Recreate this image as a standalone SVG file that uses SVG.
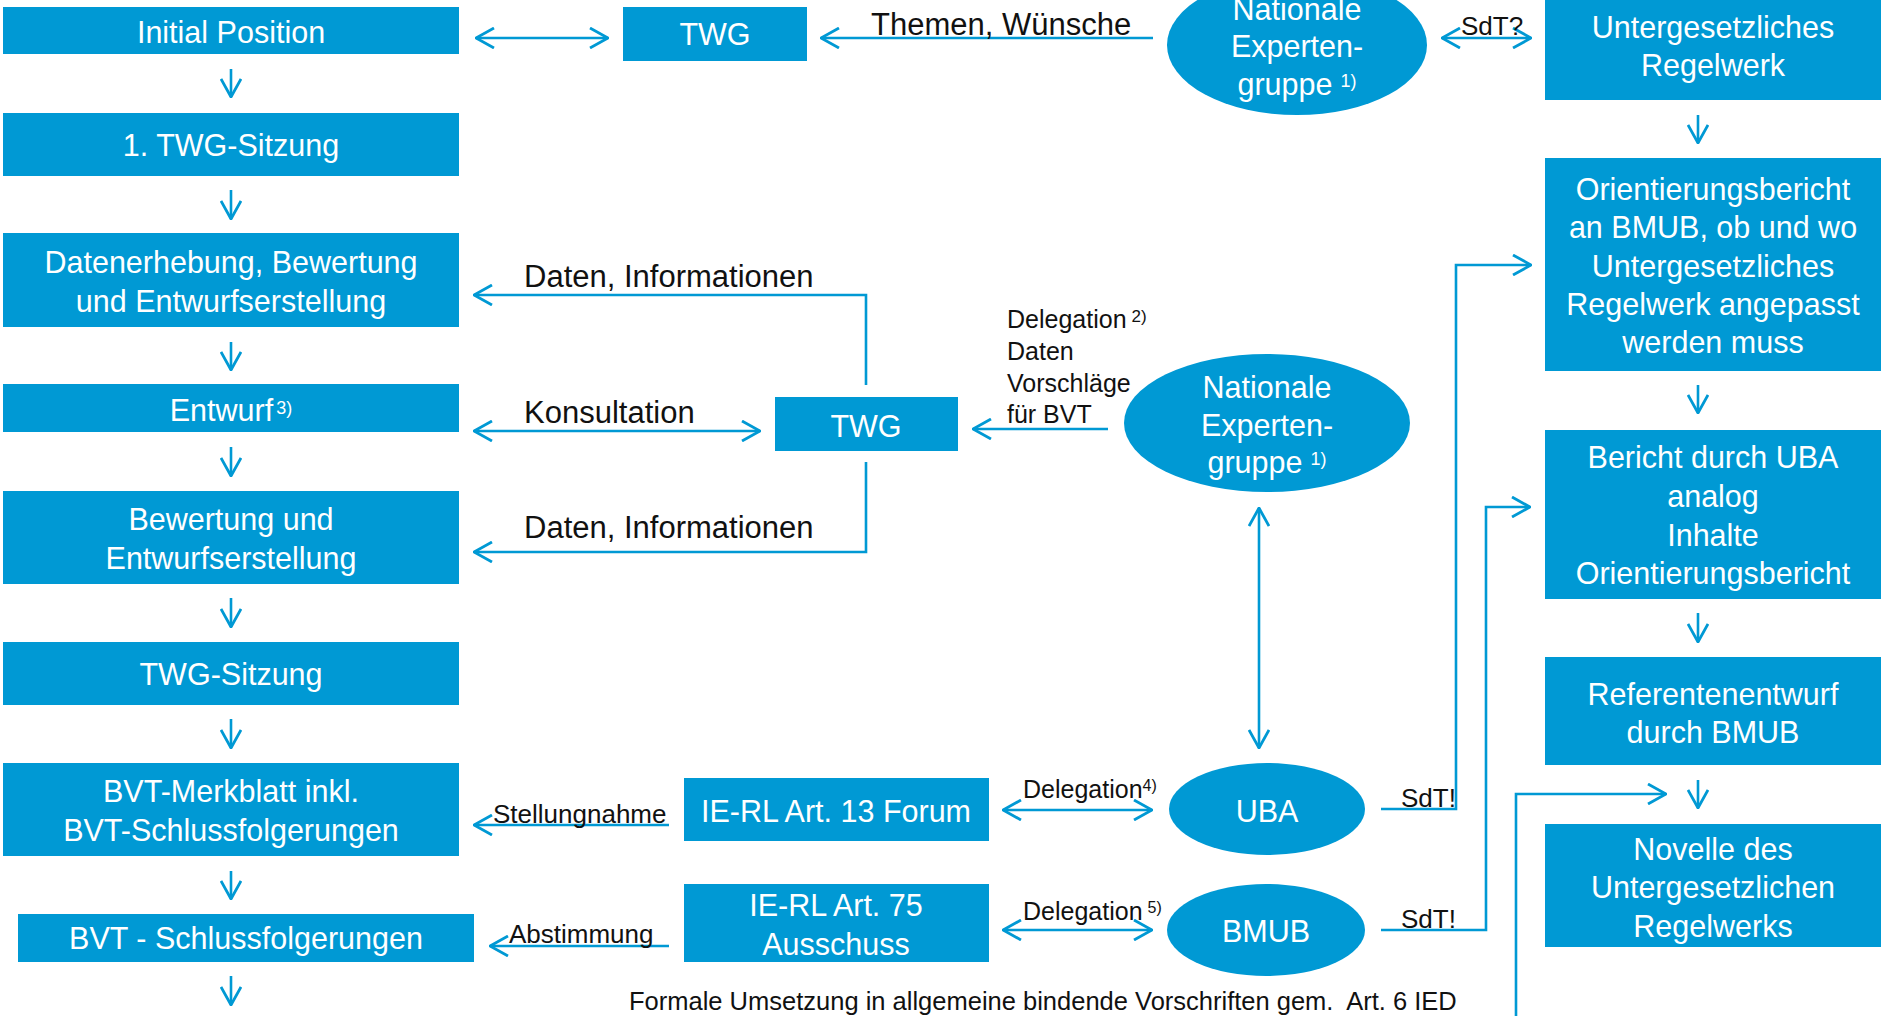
<svg xmlns="http://www.w3.org/2000/svg" width="1883" height="1016" viewBox="0 0 1883 1016">
<style>
.box{fill:#0099d4}
.wt{fill:#fff;font-family:"Liberation Sans",Arial,sans-serif;font-size:30.5px;text-anchor:middle}
.lb{fill:#111;font-family:"Liberation Sans",Arial,sans-serif;font-size:31px}
.sm{font-size:26px}
.md{font-size:25px}
.sup{font-size:18px}
.ln{fill:none;stroke:#0099d4;stroke-width:2.6}
.a1{marker-end:url(#ah)}
.a2{marker-start:url(#ah);marker-end:url(#ah)}
</style>
<defs>
<marker id="ah" viewBox="0 0 20 22" refX="19" refY="11" markerWidth="20" markerHeight="22" markerUnits="userSpaceOnUse" orient="auto-start-reverse">
<path d="M1,1 L19,11 L1,21" fill="none" stroke="#0099d4" stroke-width="2.8"/>
</marker>
</defs>
<rect width="1883" height="1016" fill="#fff"/>

<!-- left column -->
<g id="n-initial"><rect class="box" x="3" y="7" width="456" height="47"/><text class="wt" x="231" y="43">Initial Position</text></g>
<g id="n-twg1"><rect class="box" x="3" y="113" width="456" height="63"/><text class="wt" x="231" y="156">1. TWG-Sitzung</text></g>
<g id="n-daten"><rect class="box" x="3" y="233" width="456" height="94"/><text class="wt" x="231" y="273">Datenerhebung, Bewertung</text><text class="wt" x="231" y="312">und Entwurfserstellung</text></g>
<g id="n-entwurf"><rect class="box" x="3" y="384" width="456" height="48"/><text class="wt" x="231" y="421">Entwurf<tspan class="sup" dx="3" dy="-7">3)</tspan></text></g>
<g id="n-bewertung"><rect class="box" x="3" y="491" width="456" height="93"/><text class="wt" x="231" y="530">Bewertung und</text><text class="wt" x="231" y="569">Entwurfserstellung</text></g>
<g id="n-twg2"><rect class="box" x="3" y="642" width="456" height="63"/><text class="wt" x="231" y="685">TWG-Sitzung</text></g>
<g id="n-merkblatt"><rect class="box" x="3" y="763" width="456" height="93"/><text class="wt" x="231" y="802">BVT-Merkblatt inkl.</text><text class="wt" x="231" y="841">BVT-Schlussfolgerungen</text></g>
<g id="n-schluss"><rect class="box" x="18" y="914" width="456" height="48"/><text class="wt" x="246" y="949">BVT - Schlussfolgerungen</text></g>

<!-- middle -->
<g id="n-twg-top"><rect class="box" x="623" y="7" width="184" height="54"/><text class="wt" x="715" y="45">TWG</text></g>
<g id="n-twg-mid"><rect class="box" x="775" y="397" width="183" height="54"/><text class="wt" x="866" y="437">TWG</text></g>
<g id="n-art13"><rect class="box" x="684" y="778" width="305" height="63"/><text class="wt" x="836" y="822">IE-RL Art. 13 Forum</text></g>
<g id="n-art75"><rect class="box" x="684" y="884" width="305" height="78"/><text class="wt" x="836" y="916">IE-RL Art. 75</text><text class="wt" x="836" y="955">Ausschuss</text></g>

<g id="n-nat-top"><ellipse class="box" cx="1297" cy="45" rx="130" ry="70"/><text class="wt" x="1297" y="20">Nationale</text><text class="wt" x="1297" y="57">Experten-</text><text class="wt" x="1297" y="95">gruppe<tspan class="sup" dx="8" dy="-8">1)</tspan></text></g>
<g id="n-nat-mid"><ellipse class="box" cx="1267" cy="423" rx="143" ry="69"/><text class="wt" x="1267" y="398">Nationale</text><text class="wt" x="1267" y="436">Experten-</text><text class="wt" x="1267" y="473">gruppe<tspan class="sup" dx="8" dy="-8">1)</tspan></text></g>
<g id="n-uba"><ellipse class="box" cx="1267" cy="809" rx="98" ry="46"/><text class="wt" x="1267" y="822">UBA</text></g>
<g id="n-bmub"><ellipse class="box" cx="1266" cy="930" rx="99" ry="46"/><text class="wt" x="1266" y="942">BMUB</text></g>

<!-- right column -->
<g id="n-unterges"><rect class="box" x="1545" y="-2" width="336" height="102"/><text class="wt" x="1713" y="38">Untergesetzliches</text><text class="wt" x="1713" y="76">Regelwerk</text></g>
<g id="n-orient"><rect class="box" x="1545" y="158" width="336" height="213"/><text class="wt" x="1713" y="200">Orientierungsbericht</text><text class="wt" x="1713" y="238">an BMUB, ob und wo</text><text class="wt" x="1713" y="277">Untergesetzliches</text><text class="wt" x="1713" y="315">Regelwerk angepasst</text><text class="wt" x="1713" y="353">werden muss</text></g>
<g id="n-bericht"><rect class="box" x="1545" y="430" width="336" height="169"/><text class="wt" x="1713" y="468">Bericht durch UBA</text><text class="wt" x="1713" y="507">analog</text><text class="wt" x="1713" y="546">Inhalte</text><text class="wt" x="1713" y="584">Orientierungsbericht</text></g>
<g id="n-referent"><rect class="box" x="1545" y="657" width="336" height="108"/><text class="wt" x="1713" y="705">Referentenentwurf</text><text class="wt" x="1713" y="743">durch BMUB</text></g>
<g id="n-novelle"><rect class="box" x="1545" y="824" width="336" height="123"/><text class="wt" x="1713" y="860">Novelle des</text><text class="wt" x="1713" y="898">Untergesetzlichen</text><text class="wt" x="1713" y="937">Regelwerks</text></g>

<!-- connectors -->
<g id="connectors">
<path class="ln a1" d="M231,69 V97"/>
<path class="ln a1" d="M231,190 V219"/>
<path class="ln a1" d="M231,342 V370"/>
<path class="ln a1" d="M231,447 V476"/>
<path class="ln a1" d="M231,598 V627"/>
<path class="ln a1" d="M231,719 V748"/>
<path class="ln a1" d="M231,871 V899"/>
<path class="ln a1" d="M231,976 V1005"/>
<path class="ln a1" d="M1698,115 V143"/>
<path class="ln a1" d="M1698,385 V413"/>
<path class="ln a1" d="M1698,613 V642"/>
<path class="ln a1" d="M1698,780 V808"/>
<path class="ln a2" d="M476,38 H608"/>
<path class="ln a1" d="M1153,38 H821"/>
<path class="ln a2" d="M1442,38 H1531"/>
<path class="ln a1" d="M866,385 V295 H474"/>
<path class="ln a2" d="M474,431 H760"/>
<path class="ln a1" d="M1108,429 H973"/>
<path class="ln a1" d="M866,462 V552 H474"/>
<path class="ln a2" d="M1259,508 V748"/>
<path class="ln a2" d="M1003,810 H1152"/>
<path class="ln a2" d="M1003,930 H1152"/>
<path class="ln a1" d="M669,825 H474"/>
<path class="ln a1" d="M669,946 H490"/>
<path class="ln a1" d="M1381,809 H1456 V265 H1531"/>
<path class="ln a1" d="M1381,930 H1486 V507 H1530"/>
<path class="ln a1" d="M1516,1016 V794 H1666"/>
</g>

<!-- connector labels -->
<g id="labels">
<text class="lb" x="871" y="35">Themen, Wünsche</text>
<text class="lb sm" x="1461" y="35">SdT?</text>
<text class="lb" x="524" y="287">Daten, Informationen</text>
<text class="lb" x="524" y="423">Konsultation</text>
<text class="lb" x="524" y="538">Daten, Informationen</text>
<text class="lb md" x="1007" y="328">Delegation<tspan dx="5" dy="-6" style="font-size:17px">2)</tspan></text>
<text class="lb md" x="1007" y="360">Daten</text>
<text class="lb md" x="1007" y="392">Vorschläge</text>
<text class="lb md" x="1007" y="423">für BVT</text>
<text class="lb md" x="1023" y="798">Delegation<tspan dy="-7" style="font-size:16px">4)</tspan></text>
<text class="lb md" x="1023" y="920">Delegation<tspan dx="5" dy="-7" style="font-size:16px">5)</tspan></text>
<text class="lb sm" x="1401" y="807">SdT!</text>
<text class="lb sm" x="1401" y="928">SdT!</text>
<text class="lb sm" x="493" y="823">Stellungnahme</text>
<text class="lb sm" x="509" y="943">Abstimmung</text>
<text class="lb" x="629" y="1010" style="font-size:25.5px" xml:space="preserve">Formale Umsetzung in allgemeine bindende Vorschriften gem.  Art. 6 IED</text>
</g>
</svg>
